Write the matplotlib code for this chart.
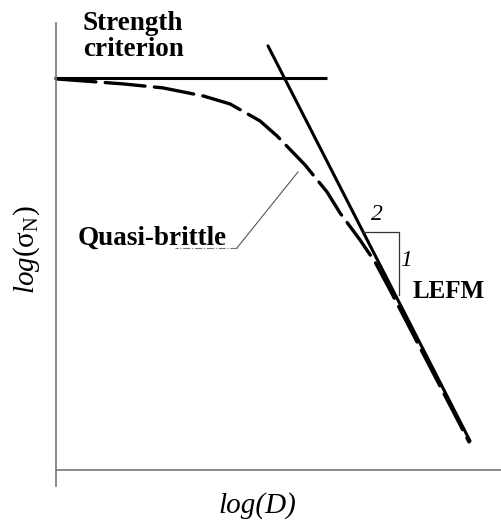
import numpy as np
import matplotlib
matplotlib.use("Agg")
import matplotlib.pyplot as plt

plt.rcParams['font.family'] = ['Liberation Serif', 'DejaVu Serif']
plt.rcParams['mathtext.fontset'] = 'custom'
plt.rcParams['mathtext.rm'] = 'Liberation Serif'
plt.rcParams['mathtext.it'] = 'Liberation Serif:italic'

# size effect curve (log D, log sigma_N), arbitrary units
qb_x = [0.0, 0.605, 1.502, 2.399, 3.296, 3.901, 4.574, 4.955, 5.583, 6.076,
        6.368, 6.816, 7.152, 7.489, 8.072, 8.655, 9.260]
qb_y = [8.767, 8.722, 8.655, 8.565, 8.386, 8.206, 7.825, 7.489, 6.839, 6.233,
        5.762, 5.157, 4.664, 4.036, 2.915, 1.794, 0.628]

strength_x = [-0.04, 6.08]
strength_y = [8.79, 8.79]

lefm_x = [4.753, 9.283]
lefm_y = [9.507, 0.650]

# slope triangle
tri_x = [6.883, 7.691, 7.691]
tri_y = [5.336, 5.336, 3.924]

fig = plt.figure(figsize=(5.02, 5.23), dpi=100)
ax = fig.add_axes([56 / 502, 37 / 523, 446 / 502, 463 / 523])
ax.set_xlim(0, 10)
ax.set_ylim(-0.359, 10.02)

for s in ['top', 'right']:
    ax.spines[s].set_visible(False)
ax.spines['bottom'].set_position(('data', 0))
for s in ['left', 'bottom']:
    ax.spines[s].set_color('#777777')
    ax.spines[s].set_linewidth(1.2)
ax.set_xticks([])
ax.set_yticks([])

ax.plot(strength_x, strength_y, color='black', lw=2.2, clip_on=False,
        solid_capstyle='butt')
ax.plot(lefm_x, lefm_y, color='black', lw=2.2, solid_capstyle='round')
ax.plot(qb_x, qb_y, color='black', lw=2.4, linestyle=(0, (12, 2.8)),
        dash_capstyle='round')

ax.plot(tri_x, tri_y, color='#333333', lw=0.9)
ax.text(7.197, 5.717, '2', fontsize=17, style='italic', ha='center', va='center')
ax.text(7.848, 4.686, '1', fontsize=17, style='italic', ha='center', va='center')
ax.text(8.80, 4.01, 'LEFM', fontsize=18, fontweight='bold', ha='center', va='center')

# leader for the quasi-brittle label
ax.plot([5.426, 4.058], [6.682, 4.978], color='#555555', lw=0.8)
ax.plot([4.058, 2.668], [4.978, 4.978], color='#777777', lw=0.8, linestyle='-.')
ax.text(2.152, 5.045, 'Quasi-brittle', fontsize=19.5, fontweight='bold',
        ha='center', va='baseline')

ax.text(0.60, 10.30, 'Strength\ncriterion', fontsize=19.5, fontweight='bold',
        ha='left', va='top', linespacing=1.08, clip_on=False)

fig.text(257 / 502, 1 - 506 / 523, 'log(D)', fontsize=21, style='italic',
         ha='center', va='center')
fig.text(27 / 502, 1 - 250 / 523, r'$log(\mathrm{\sigma}_{\mathrm{N}})$', fontsize=21,
         rotation=90, ha='center', va='center')

fig.savefig('out.png', dpi=100)
